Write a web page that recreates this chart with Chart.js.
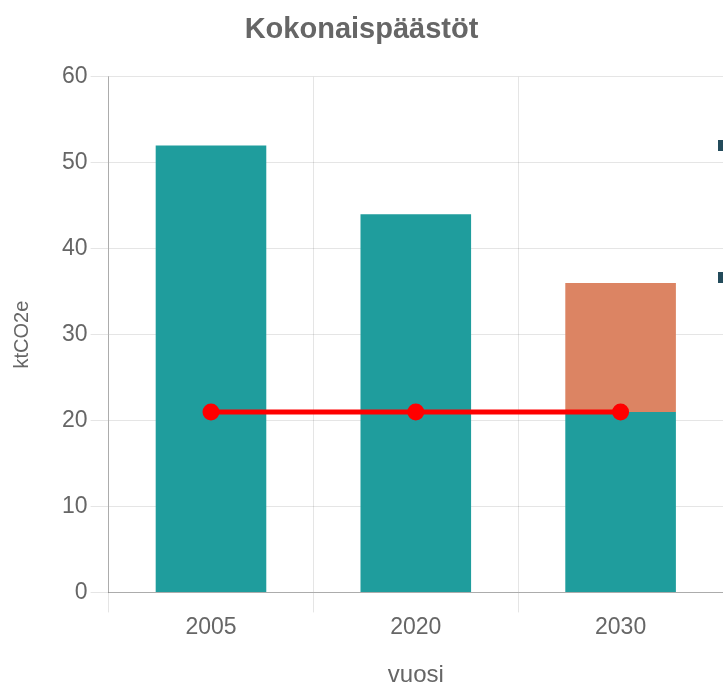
<!DOCTYPE html>
<html>
<head>
<meta charset="utf-8">
<script src="https://cdn.jsdelivr.net/npm/chart.js@4"></script>
<style>
  html, body { margin: 0; padding: 0; background: #fff; }
  #wrap { position: relative; width: 723px; height: 687px; overflow: hidden; }
  .side-mark { position: absolute; left: 718px; width: 6px; height: 11px; background: #234b5b; }
</style>
</head>
<body>
<div id="wrap">
  <canvas id="totalChart" width="723" height="687"></canvas>
  <div class="side-mark" style="top:140px"></div>
  <div class="side-mark" style="top:272px"></div>
</div>
<script>
// data
const years = ['2005', '2020', '2030'];
const emissions = [52, 44, 21];
const reduction = [null, null, 15];
const target = [21, 21, 21];
const yTicks = [0, 10, 20, 30, 40, 50, 60];

const textColor = '#666';
const gridColor = 'rgba(0,0,0,.1)';
const axisColor = 'rgba(0,0,0,.25)';
const font = '"Liberation Sans", Arial, Helvetica, sans-serif';

const ctx = document.getElementById('totalChart').getContext('2d');
new Chart(ctx, {
    type: 'bar',
    data: {
        labels: years,
        datasets: [
            {
                type: 'line',
                label: 'Tavoite',
                data: target,
                borderColor: '#ff0000',
                backgroundColor: '#ff0000',
                borderWidth: 5,
                pointRadius: 6,
                pointHoverRadius: 6,
                pointBackgroundColor: '#ff0000',
                pointBorderColor: '#ff0000',
                fill: false,
                tension: 0,
                order: 0
            },
            {
                label: 'Päästöt',
                data: emissions,
                backgroundColor: '#1f9d9d',
                stack: 'a',
                barPercentage: 0.9,
                categoryPercentage: 0.6,
                order: 1
            },
            {
                label: 'Vähennys',
                data: reduction,
                backgroundColor: '#dc8463',
                stack: 'a',
                barPercentage: 0.9,
                categoryPercentage: 0.6,
                order: 1
            }
        ]
    },
    options: {
        responsive: false,
        animation: false,
        layout: { autoPadding: false, padding: 0 },
        plugins: {
            legend: { display: false },
            tooltip: { enabled: false },
            title: {
                display: true,
                text: 'Kokonaispäästöt',
                color: textColor,
                font: { family: font, size: 29, weight: 'bold' },
                padding: { top: 13, bottom: 29 }
            }
        },
        scales: {
            x: {
                stacked: true,
                grid: { color: gridColor, tickLength: 20, offset: true },
                border: { color: axisColor },
                ticks: { color: textColor, padding: 1, font: { family: font, size: 23 } },
                title: {
                    display: true,
                    text: 'vuosi',
                    color: textColor,
                    font: { family: font, size: 24, lineHeight: 1 },
                    padding: { top: 21, bottom: 0 }
                }
            },
            y: {
                stacked: true,
                min: 0,
                max: 60,
                afterBuildTicks: axis => { axis.ticks = yTicks.map(v => ({ value: v })); },
                grid: { color: gridColor, tickLength: 18 },
                border: { color: axisColor },
                ticks: { color: textColor, padding: 3, font: { family: font, size: 23 } },
                title: {
                    display: true,
                    text: 'ktCO2e',
                    color: textColor,
                    font: { family: font, size: 20 },
                    padding: { top: 10, bottom: 25 }
                }
            }
        }
    }
});
</script>
</body>
</html>
